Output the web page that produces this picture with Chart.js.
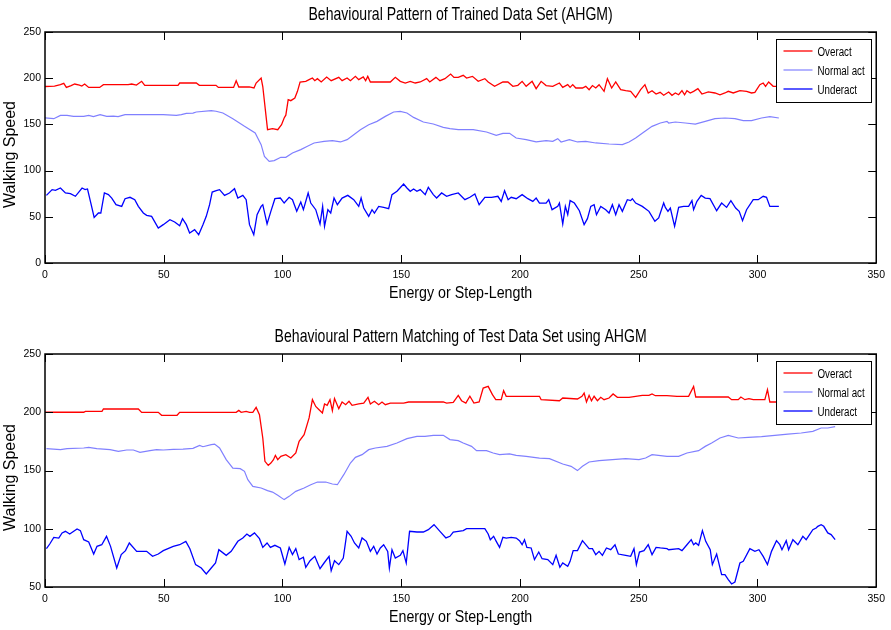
<!DOCTYPE html>
<html>
<head>
<meta charset="utf-8">
<script src="https://cdn.jsdelivr.net/npm/chart.js@4.4.1/dist/chart.umd.min.js"></script>
<style>
  html, body { margin: 0; padding: 0; background: #fff; }
  .panel { position: relative; width: 891px; height: 315px; }
</style>
</head>
<body>
<div class="panel"><canvas id="chartTrain" width="891" height="315"></canvas></div>
<div class="panel"><canvas id="chartTest" width="891" height="315"></canvas></div>
<script>
// ── DATA ─────────────────────────────────────────────────────────
const xTicks      = [0, 50, 100, 150, 200, 250, 300, 350]
const yTicksTrain = [0, 50, 100, 150, 200, 250]
const yTicksTest  = [50, 100, 150, 200, 250]
const seriesNames = ['Overact', 'Normal act', 'Underact']
const titleTrain  = 'Behavioural Pattern of Trained Data Set (AHGM)'
const titleTest   = 'Behavioural Pattern Matching of Test Data Set using AHGM'
const xLabel      = 'Energy or Step-Length'
const yLabel      = 'Walking Speed'

// [x, y] pairs
const trainOver = [[0,191],[4,191.5],[6.5,193],[7.9,194.5],[9,190],[11,192],[12.5,193.7],[14.5,192.5],[15.5,191.5],[16.7,193.7],[18.4,190],[23,190],[24.6,193],[35,193],[36.5,193.7],[38.5,192.5],[40.7,196.6],[42,192.3],[56,192.3],[56.7,194.8],[63.7,194.8],[65,192.3],[72,192.3],[73,190],[79.4,190],[80.5,197.3],[81.6,190.5],[86,190.5],[88,189.4],[88.9,194.8],[91,200.2],[91.7,191],[93.7,144.3],[95.8,145.4],[98,144.3],[99.6,149.7],[100.7,156.9],[101.4,160],[102.4,176.8],[103.5,175.7],[105.2,178.6],[106.3,185.8],[107.4,195.9],[109.8,196.6],[111.2,198.4],[112.6,200.2],[113.6,197.3],[114.7,199.5],[116.3,195.9],[118.6,201.3],[120.5,197.3],[123.7,200.9],[125.1,197.3],[127.2,200.2],[128.6,197.3],[130.7,202],[132.1,198.4],[134,201.3],[135,197.3],[135.9,202],[137,195.9],[145.4,195.9],[147.5,201],[149.6,196.6],[151.7,194.8],[153.8,196.6],[155.9,194.8],[158,195.9],[160.7,199.5],[162,195.9],[164.6,200.9],[166.3,197.3],[168.4,199.5],[170.8,204.5],[172.2,200.9],[174,200.9],[176.1,203.1],[177.5,200.2],[180,202],[182.4,196.6],[185.2,199.5],[186.6,195.9],[189.3,191.2],[192.8,195.9],[194.9,195.9],[197,191.2],[199.1,192.3],[200.9,196.6],[202.6,191.2],[205.1,196.6],[206.8,188.7],[208.9,196.6],[211,192],[213.8,191.2],[216.6,194.8],[218,190.1],[220.1,193],[221.1,190.1],[222.2,193],[223.5,189.4],[226.3,189.4],[227.7,191.2],[229.1,187.6],[230.5,192],[231.9,189.4],[233.3,193],[235.4,185.8],[236.8,199.5],[238.6,189.4],[240.3,195.9],[242.4,187.6],[244.5,186.5],[246.6,185.8],[248.7,179.3],[250.8,187.6],[252.6,193],[254,184],[255.6,186.5],[257.3,182.9],[259,184.7],[260.5,181.5],[262.6,185.1],[264,181.5],[265.4,184],[266.8,182.1],[268.2,186.5],[269.3,182.1],[270.3,186.5],[271.7,184],[273.1,185.8],[274.9,188.7],[276.6,182.9],[279.3,185.1],[282.1,184],[284.2,182.1],[286.3,184],[287.7,185.8],[289.8,184],[292.6,186.5],[295.4,185.8],[297.5,184],[298.9,184.7],[301,193],[302.4,194.8],[303.4,191.2],[304.7,195.9],[306.6,191.2],[309,191.2]]
const trainNormal = [[0,157],[3.7,156.2],[6.5,159.8],[9.3,159.8],[12,158.7],[16.3,158.7],[18.4,159.8],[20.4,158.4],[23.2,160.5],[26,158.7],[28.8,159],[30.8,158.4],[33.7,160.5],[49.8,160.5],[55.3,159.8],[57.4,160.5],[59.5,162],[62.3,162.3],[63.7,163.4],[70,164.9],[72,164.2],[74.9,162.3],[79.1,156.2],[84,147.9],[88.5,140.7],[91,128.1],[92.4,115.4],[94.4,110],[96.5,110.8],[99.3,114.4],[101.4,114.4],[104.2,119],[107.7,122.7],[110.5,126.3],[113.3,129.9],[117.5,131.7],[121,132.4],[124.4,131],[127.2,133.5],[130,138.9],[132.8,144.3],[136.3,149.7],[139.8,153.3],[143.3,158.7],[146.8,163.4],[149.6,164.1],[152.4,162.3],[155.2,157.6],[159.3,152.6],[163.5,150.4],[167.7,146.8],[170.5,145.4],[174,144.3],[176.1,144.3],[180.3,144.3],[185.9,141.8],[190,138.2],[192.8,140.3],[195.6,140.3],[198.4,135.3],[202.6,133.5],[206.8,131],[211,132.4],[213.8,131.7],[215.9,134.6],[217.3,131],[220.8,133.5],[224.2,131],[227.7,131.7],[231.9,129.9],[237.5,128.8],[243.1,128.1],[245.9,131],[248.7,135.3],[252.2,141.8],[255.6,147.9],[259.1,151.5],[261.9,153.3],[262.6,151.5],[265.4,152.6],[269.6,151.5],[273.8,150.4],[278,153.3],[282.1,156.2],[286.3,156.9],[290.5,156.2],[294,154],[297.5,154],[301.7,156.9],[305.2,158.4],[309,156.9]]
const trainUnder = [[0.6,73.2],[3,79.4],[4.4,78.7],[6.5,81.2],[8.6,75.8],[10.7,75],[12.8,72.2],[15.6,81.2],[16.9,79.4],[17.9,80.1],[19.3,64.9],[20.7,49.4],[22.5,54.1],[23.5,54.1],[25,75.8],[26.7,74],[28.1,70.3],[29.9,63.1],[32.3,61.3],[33.7,69.6],[35.8,71.1],[37.8,68.5],[39.3,61.3],[41.4,54.1],[42.8,51.6],[44.9,50.5],[47.7,37.9],[49.8,41.5],[52.6,46.9],[54.6,44.4],[56.7,40.4],[57.9,48],[59.5,41.5],[60.9,32.5],[63,36.1],[64.7,30.7],[66.5,41.5],[67.9,50.5],[69.3,63.1],[70.4,76.8],[72.1,78.3],[73.5,79.4],[75.6,73.2],[77.7,75.8],[79.8,80.4],[81.2,70.3],[83.3,73.2],[84.7,68.5],[86.1,41.5],[87.9,30.7],[89.3,52.3],[91,61.3],[91.7,63.1],[93.5,42.2],[95.1,55.9],[96.8,69.6],[99.1,70.3],[100.7,64.9],[102.8,71.1],[104.2,68.5],[106,55.9],[107.7,66],[108.8,57.7],[110.8,75.8],[111.9,64.9],[114,57.7],[115.8,42.2],[116.9,61.3],[117.7,39.7],[119.1,57.7],[120.3,54.1],[121.7,70.3],[123.1,63.1],[125.1,70.3],[127.5,73.2],[130,68.5],[132.1,61.3],[133.1,70.3],[134.2,59.5],[136.3,50.5],[137.7,57.7],[138.7,54.1],[140.5,61.3],[142.6,60.2],[144.7,58.8],[146.1,74],[148.2,77.6],[151,85.5],[152.4,81.2],[153.8,77.6],[155.2,80.1],[156.6,77.6],[158,79.4],[160.1,74],[161.4,81.9],[163.5,74],[164.9,70.3],[167,75.8],[169.1,72.2],[171.2,74],[174,75.8],[176.8,68.5],[178.9,71.1],[181,74.7],[182.8,63.1],[185.2,71.1],[188,71.1],[190.7,72.2],[192.1,66.7],[193.5,78.3],[195,68.5],[196.3,71.1],[198.4,69.6],[200.9,74],[203.3,69.6],[205.4,66.7],[206.8,70.3],[208.2,64.9],[211,64.9],[212.1,68.5],[213.5,57.7],[215.9,61.3],[216.6,64.9],[218,42.2],[219.1,61.3],[220.1,52.3],[221.1,67.5],[222.9,64.9],[225,56.6],[227,41.5],[228.4,48],[229.8,61.3],[231.2,63.1],[232.2,52.3],[234,61.3],[236.1,57.7],[237.5,54.1],[238.9,63.1],[240.3,52.3],[241.7,63.1],[243.1,55.9],[245.2,68.5],[246.6,67.5],[247.3,69.6],[248.7,64.9],[251.5,61.3],[254.3,55.9],[256.8,45.1],[258.4,48.7],[260.5,64.9],[261.2,60.2],[262.3,55.9],[263.3,59.5],[265.1,39.7],[266.8,60.2],[268.9,61.3],[271,61.3],[272.4,67.5],[273.1,57.7],[274.5,66.7],[276.3,73.2],[278,70.3],[280,69.6],[282.8,56.6],[284.9,64.9],[287,60.2],[288.8,67.5],[290.8,59.5],[292.3,55.9],[293.7,45.8],[295.4,57.7],[298.2,68.5],[300.3,68.5],[302.4,72.2],[303.8,71.1],[305.2,61.3],[309,61.3]]

const testOver = [[0,200],[16.3,200],[17,200.8],[24,200.8],[24.6,202.8],[39.3,202.8],[40.7,199.9],[47.7,199.9],[49.1,197.4],[55.6,197.4],[56.7,199.9],[80.5,199.9],[81.6,201.6],[82.6,199.9],[84.7,200.8],[86.1,199.9],[87.5,199.9],[88.9,204.2],[90.3,197.9],[91.7,177.9],[92.6,157.9],[94,154.4],[95.1,156.4],[96.2,159.3],[97,163],[98,159.3],[99.3,162.2],[101.4,163.6],[103.5,160.7],[105.6,165],[107,175],[109.1,180.8],[111.2,195.1],[112.6,210.8],[114,205],[115.4,202.2],[116.8,199.4],[117.7,207.1],[118.8,205.9],[120,210.8],[121,201.4],[121.9,211.7],[123.7,203.1],[125.1,208.8],[126.6,206.5],[128,209.4],[129.3,205.9],[132.1,207.1],[134.2,207.9],[136,212.8],[137,207.1],[138.7,209.4],[140.5,206.5],[141.9,208.8],[143.3,206.5],[145.4,207.9],[151,207.9],[153.1,208.8],[167.7,208.8],[169.1,207.9],[171.9,208.5],[174,214.5],[175.4,209.9],[177.2,207.9],[178.9,213.7],[180.6,207.9],[182.8,208.8],[184.5,220.8],[186.6,222.2],[188.4,215.1],[189.8,210.8],[192.1,210.8],[193.1,218.5],[194.2,213.7],[208.2,213.7],[208.9,210.8],[216.6,209.9],[218,212.2],[224.2,211.4],[226.1,213.7],[227,216.5],[228,208.8],[229.1,214.5],[230.1,209.9],[231.2,213.7],[232.6,209.9],[234,212.8],[235.4,210.8],[237.5,212.2],[239.2,215.7],[241,212.8],[245.9,212.8],[251.5,214.5],[254.3,214.5],[255.6,215.7],[257,214.2],[261.9,214.2],[266.1,213.7],[271,213.7],[273.1,222.2],[274,213.1],[287.7,213.1],[289.1,210.8],[291.9,210.8],[293,213.1],[294.7,210.8],[296.4,211.7],[298.2,210.8],[303.1,210.8],[304.2,219.4],[305.2,208.8],[308,208.8],[333,208.8]]
const testNormal = [[0.6,168.7],[6.5,167.9],[9.3,168.7],[16.3,169.3],[18.4,169.9],[21.8,168.7],[27.4,167.9],[30.9,166.5],[34.4,167.6],[37.2,167.6],[40,165.6],[44.2,167],[47,167.9],[49.8,167.6],[54,168.2],[58.1,168.4],[62.3,169],[65.1,171.6],[66.5,170.4],[70,172.2],[71.4,172.7],[73.5,169.3],[76.3,159.3],[79.1,152.1],[82.2,151.6],[84,149.3],[85.4,142.1],[87.5,136.4],[91,135],[93.7,132.7],[95.8,131.5],[98,128.7],[100.7,125],[102.8,127.8],[105.6,132.1],[109.1,135],[111.9,137.8],[114.7,140.1],[118.2,140.1],[121,138.4],[123.1,137.8],[125.8,146.4],[128.6,156.4],[130.7,161.3],[133.5,163.6],[136.3,167.9],[139.1,169.3],[144,170.7],[148.2,173.6],[152.4,177.3],[156.6,179.3],[160,179.3],[163.5,180.2],[167.7,180.2],[170.5,176.5],[174,175.6],[176.1,173.6],[179.6,170.7],[181.7,167],[185.9,167],[188.7,165],[191.4,163.6],[195.6,164.2],[198.4,163],[202.6,162.2],[208.2,160.7],[212.4,160.2],[218,155.6],[221.5,153.6],[224.2,149.9],[226.3,153.6],[229.1,157.3],[233.3,158.4],[238.9,159.3],[244.5,160.2],[250.1,159.3],[252.9,160.7],[255.6,163.6],[261.9,162.2],[266.8,162.2],[270.3,165],[275.2,167],[278,170.7],[280.7,173.6],[284.2,177.9],[287.7,180.2],[291.9,177.9],[296.1,178.5],[301.7,179],[307.3,180.2],[312.8,181.3],[318.4,182.2],[323.3,183.6],[326.8,186.5],[329.6,186.5],[332.7,187.6]]
const testUnder = [[0.6,82.9],[2,86.9],[3.7,92.6],[5.8,92],[7.2,96.4],[8.6,97.8],[10.4,95.5],[13.5,99.8],[14.9,98.4],[16.3,90.6],[18.4,88.6],[20.5,78.3],[21.9,84.9],[23.9,86.3],[25.9,93.5],[27.6,84.9],[30.2,66.3],[32.1,77.8],[33.9,81.2],[35.5,87.8],[38.6,80.6],[42.8,80.6],[45.3,76.3],[47.7,78.3],[49.8,81.2],[54,84.9],[56.7,86.3],[59.3,89.2],[61,82.9],[63.4,69.2],[65.8,66.3],[67.9,61.2],[70,66.3],[71.8,70.6],[73.2,82],[76.3,77.2],[78.4,80.6],[81.2,89.2],[83.3,92.1],[85,95.5],[86.3,93.5],[88.2,96.4],[90.3,91.5],[91.7,84],[93.5,87.8],[94.9,84],[96.8,85.8],[99.1,83.5],[101,69.7],[102.8,84],[104.2,77.8],[105.6,82.9],[107,73.5],[108.8,75.5],[109.8,66.9],[111.6,72.6],[113.6,76.3],[115.8,65.7],[117.5,70.6],[119.6,76.3],[120.5,64],[121.9,72.6],[123.7,69.2],[125.6,74.9],[127.2,97.8],[128.9,93.5],[130.3,87.8],[132.1,83.5],[133.5,92.1],[135.3,89.2],[137,80.6],[138.4,84.9],[139.8,78.3],[141.2,83.5],[142.6,86.3],[144.3,80.6],[145,66.3],[146.1,82],[147.5,74.9],[149.6,77.2],[150.7,81.2],[152.1,70.6],[153.5,97.8],[156.6,97.2],[159.3,97.2],[161.4,99.2],[163.8,103.5],[166.3,97.8],[168.8,92.1],[170.5,93.5],[171.9,97.2],[174,97.8],[176.1,98.4],[177.5,100.1],[185.2,100.1],[186.6,95.5],[187.5,90.6],[188.9,93.5],[190,89.2],[191.4,84],[192.8,92.6],[194.2,92],[196.3,92.6],[198.4,92],[199.8,89.8],[200.9,86.3],[201.9,90.6],[202.9,84],[204.7,83.5],[206.1,73.5],[207.9,80],[209.3,74.3],[211.7,73.5],[213.8,69.2],[215.2,77.2],[216.8,66.9],[218,70.6],[220.1,67.7],[221.1,72],[222.4,81.2],[224.2,81.2],[226.3,89.8],[227.7,86.3],[229.1,82.9],[230.5,82.9],[231.9,77.8],[233.3,80.6],[234.7,77.2],[236.4,83.5],[238.2,82],[240,86.3],[241.4,78.3],[244.5,77.2],[246.6,76.3],[248,82.9],[249,69.2],[250.3,80],[252.2,81.2],[254,86.3],[255.6,77.8],[257.3,84],[259.1,83.5],[261.9,82.9],[262.6,82],[266.8,82.9],[268.2,81.2],[270.3,86.3],[272.1,90.6],[273.1,86.3],[274,87.8],[275.2,85.8],[276.8,98.4],[278.2,89.2],[280.1,82],[281,69.2],[282.8,78.3],[284.9,60.6],[286.3,60.6],[287.7,56.3],[289.1,52.6],[290.5,54.3],[292.6,70.6],[294,72],[296.8,82.9],[298.9,80.6],[300.6,82],[302.4,76.3],[304.2,69.2],[305.9,80.6],[308,89.8],[309.4,86.3],[310.3,82],[312.1,89.8],[313.1,82],[314.9,90.6],[317,86.3],[319.1,93.5],[320.5,90.6],[323.3,99.2],[324.7,100.6],[325.4,102.1],[326.8,103.5],[327.9,102.1],[329.6,96.4],[331,95],[332.7,90.6]]

// ── STYLE ────────────────────────────────────────────────────────
const FONT = '"Liberation Sans", Arial, Helvetica, sans-serif'
const seriesColors = ['#ff0000', '#8080ff', '#0000ff']
const seriesWidths = [1.3, 1.2, 1.3]

/** Draws text, squeezed horizontally like the exported MATLAB figure */
function drawText(ctx, txt, x, y, size, sx, align, vertical) {
    ctx.save()
    ctx.translate(x, y)
    if (vertical) ctx.rotate(-Math.PI / 2)
    ctx.scale(sx, 1)
    ctx.font = `${size}px ${FONT}`
    ctx.fillStyle = '#000'
    ctx.textAlign = align
    ctx.textBaseline = 'alphabetic'
    ctx.fillText(txt, 0, 0)
    ctx.restore()
}

// ── MATLAB-LIKE FRAME: box, inward ticks, legend, titles ─────────
const matlabFrame = {
    id: 'matlabFrame',
    afterDraw(chart, args, opts) {
        const { ctx, chartArea: a, scales } = chart
        ctx.save()
        ctx.strokeStyle = '#000'
        ctx.lineWidth = 1
        ctx.beginPath()
        scales.x.ticks.forEach(t => {
            const px = Math.round(scales.x.getPixelForValue(t.value)) + 0.5
            ctx.moveTo(px, a.bottom); ctx.lineTo(px, a.bottom - 8)
            ctx.moveTo(px, a.top);    ctx.lineTo(px, a.top + 8)
        })
        scales.y.ticks.forEach(t => {
            const py = Math.round(scales.y.getPixelForValue(t.value)) + 0.5
            ctx.moveTo(a.left, py);  ctx.lineTo(a.left + 8, py)
            ctx.moveTo(a.right, py); ctx.lineTo(a.right - 8, py)
        })
        ctx.stroke()
        ctx.lineWidth = 1.5
        ctx.strokeRect(a.left, a.top, a.right - a.left, a.bottom - a.top)

        // legend box, top right inside the axes
        const lx = Math.round(a.right - 100) + 0.5
        const ly = Math.round(a.top + 7) + 0.5
        ctx.fillStyle = '#fff'
        ctx.fillRect(lx, ly, 95, 63)
        ctx.lineWidth = 1
        ctx.strokeStyle = '#000'
        ctx.strokeRect(lx, ly, 95, 63)
        chart.data.datasets.forEach((ds, i) => {
            const ry = ly + 11.5 + i * 19
            ctx.strokeStyle = ds.borderColor
            ctx.lineWidth = ds.borderWidth
            ctx.beginPath(); ctx.moveTo(lx + 7, ry); ctx.lineTo(lx + 36, ry); ctx.stroke()
            drawText(ctx, ds.label, lx + 41, ry + 4.5, 12.5, 0.78, 'left', false)
        })

        // titles
        const cx = (a.left + a.right) / 2
        drawText(ctx, opts.title, cx, a.top - 11.7, 18.5, 0.76, 'center', false)
        drawText(ctx, xLabel, cx, a.bottom + 35, 16, 0.89, 'center', false)
        drawText(ctx, yLabel, 15, (a.top + a.bottom) / 2 + 7, 16, 1, 'center', true)
        ctx.restore()
    }
}

// ── BUILD CHARTS ─────────────────────────────────────────────────
function buildChart(canvasId, series, yTicks, title, padTop, xHeight) {
    return new Chart(document.getElementById(canvasId).getContext('2d'), {
        type: 'line',
        data: {
            datasets: series.map((pts, i) => ({
                label: seriesNames[i],
                data: pts.map(([x, y]) => ({ x, y })),
                borderColor: seriesColors[i],
                borderWidth: seriesWidths[i],
                pointRadius: 0,
                fill: false,
                tension: 0
            }))
        },
        options: {
            responsive: false,
            animation: false,
            devicePixelRatio: 1,
            layout: { padding: { top: padTop, right: 10, left: 0, bottom: 0 } },
            plugins: { legend: { display: false }, title: { display: false }, tooltip: { enabled: false }, matlabFrame: { title } },
            scales: {
                x: {
                    type: 'linear', min: xTicks[0], max: xTicks[xTicks.length - 1],
                    afterBuildTicks: s => { s.ticks = xTicks.map(v => ({ value: v })) },
                    afterFit: s => { s.height = xHeight },
                    ticks: { color: '#000', font: { size: 10.5, family: FONT }, padding: 6, maxRotation: 0, autoSkip: false },
                    grid: { display: false, drawTicks: false },
                    border: { display: false }
                },
                y: {
                    min: yTicks[0], max: yTicks[yTicks.length - 1],
                    afterBuildTicks: s => { s.ticks = yTicks.map(v => ({ value: v })) },
                    afterFit: s => { s.width = 45 },
                    ticks: { color: '#000', font: { size: 10.5, family: FONT }, padding: 4 },
                    grid: { display: false, drawTicks: false },
                    border: { display: false }
                }
            }
        },
        plugins: [matlabFrame]
    })
}

buildChart('chartTrain', [trainOver, trainNormal, trainUnder], yTicksTrain, titleTrain, 32, 52)
buildChart('chartTest', [testOver, testNormal, testUnder], yTicksTest, titleTest, 39, 43)
</script>
</body>
</html>
